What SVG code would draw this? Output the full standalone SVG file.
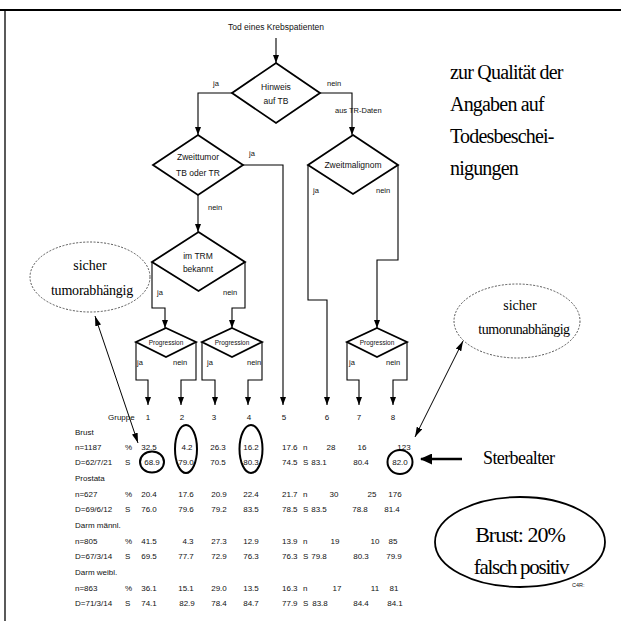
<svg xmlns="http://www.w3.org/2000/svg" width="621" height="621" viewBox="0 0 621 621">
<defs>
<marker id="ah" viewBox="0 0 8 6" refX="8" refY="3" markerWidth="8" markerHeight="6" orient="auto" markerUnits="userSpaceOnUse"><path d="M0,0 L8,3 L0,6 z" fill="#000"/></marker>
<marker id="ah2" viewBox="0 0 10 6" refX="10" refY="3" markerWidth="10" markerHeight="6" orient="auto-start-reverse" markerUnits="userSpaceOnUse"><path d="M0,0 L10,3 L0,6 z" fill="#000"/></marker>
<marker id="big" viewBox="0 0 12 11" refX="11" refY="5.5" markerWidth="12" markerHeight="11" orient="auto" markerUnits="userSpaceOnUse"><path d="M0,0 L12,5.5 L0,11 z" fill="#000"/></marker>
</defs>
<style>
.s{font-family:"Liberation Sans",Arial,sans-serif;fill:#111}
.d{font-size:8.5px;text-anchor:middle}
.l{font-size:7.5px}
.p{font-size:6.5px;text-anchor:middle}
.t{font-size:8px}
.m{text-anchor:middle}
.r{font-family:"Liberation Serif","Times New Roman",serif;fill:#000}
.dia{fill:#fff;stroke:#000;stroke-width:1.8}
.c{fill:none;stroke:#000;stroke-width:1.1}
.ring{fill:none;stroke:#000;stroke-width:2}
.dash{fill:none;stroke:#444;stroke-width:0.9;stroke-dasharray:2 1.5}
</style>
<rect width="621" height="621" fill="#fff"/>
<g id="frame">
<line x1="0" y1="10" x2="621" y2="10" stroke="#000" stroke-width="2"/>
<line x1="5" y1="10" x2="5" y2="621" stroke="#000" stroke-width="1.3"/>
</g>
<g id="connectors">
<path class="c" d="M276,38 V63" marker-end="url(#ah)"/>
<path class="c" d="M232,93 H198 V135" marker-end="url(#ah)"/>
<path class="c" d="M320,93 H352 V135" marker-end="url(#ah)"/>
<path class="c" d="M243,165 H283 V405" marker-end="url(#ah)"/>
<path class="c" d="M198,195 V232" marker-end="url(#ah)"/>
<path class="c" d="M152,262 V308 H165 V328" marker-end="url(#ah)"/>
<path class="c" d="M245,262 V308 H232 V328" marker-end="url(#ah)"/>
<path class="c" d="M136,342 V380 H148 V405" marker-end="url(#ah)"/>
<path class="c" d="M196,342 V380 H181 V405" marker-end="url(#ah)"/>
<path class="c" d="M202,342 V380 H215 V405" marker-end="url(#ah)"/>
<path class="c" d="M262,342 V380 H248 V405" marker-end="url(#ah)"/>
<path class="c" d="M308,165 V300 H327 V405" marker-end="url(#ah)"/>
<path class="c" d="M398,165 V260 H377 V328" marker-end="url(#ah)"/>
<path class="c" d="M347,342 V380 H359 V405" marker-end="url(#ah)"/>
<path class="c" d="M407,342 V380 H393 V405" marker-end="url(#ah)"/>
<path d="M95,316 L138,443" stroke="#000" stroke-width="1" fill="none" marker-start="url(#ah2)" marker-end="url(#ah2)"/>
<path d="M463,341 L415,437" stroke="#000" stroke-width="1" fill="none" marker-start="url(#ah2)" marker-end="url(#ah2)"/>
<path d="M462,459 H421" stroke="#000" stroke-width="2.5" fill="none" marker-end="url(#big)"/>
</g>
<g id="n-title"><text class="s m" x="276" y="30" font-size="8.5">Tod eines Krebspatienten</text></g>
<g id="n-hinweis">
<polygon class="dia" points="276,63 320,93 276,123 232,93"/>
<text class="s d" x="276" y="90">Hinweis</text>
<text class="s d" x="276" y="104">auf TB</text>
</g>
<g id="n-zweittumor">
<polygon class="dia" points="198,135 243,165 198,195 153,165"/>
<text class="s d" x="198" y="160">Zweittumor</text>
<text class="s d" x="198" y="176">TB oder TR</text>
</g>
<g id="n-zweitmalignom">
<polygon class="dia" points="353,135 398,165 353,194 308,165"/>
<text class="s d" x="353" y="168">Zweitmalignom</text>
</g>
<g id="n-trm">
<polygon class="dia" points="198.5,232 245,262 198.5,291 152,262"/>
<text class="s d" x="198" y="259">im TRM</text>
<text class="s d" x="198" y="272">bekannt</text>
</g>
<g id="n-progA">
<polygon class="dia" points="166,328 196,342 166,357 136,342"/>
<text class="s p" x="166" y="344.5">Progression</text>
</g>
<g id="n-progB">
<polygon class="dia" points="232,328 262,342 232,357 202,342"/>
<text class="s p" x="232" y="344.5">Progression</text>
</g>
<g id="n-progC">
<polygon class="dia" points="377,328 407,342 377,357 347,342"/>
<text class="s p" x="377" y="344.5">Progression</text>
</g>
<g id="edge-labels" class="s l">
<text x="213" y="86">ja</text>
<text x="327" y="86">nein</text>
<text x="335" y="113">aus TR-Daten</text>
<text x="249" y="156">ja</text>
<text x="208" y="210">nein</text>
<text x="313" y="193">ja</text>
<text x="376" y="193">nein</text>
<text x="157" y="295">ja</text>
<text x="223" y="295">nein</text>
<text x="137" y="365">ja</text>
<text x="173" y="365">nein</text>
<text x="207" y="365">ja</text>
<text x="247" y="365">nein</text>
<text x="349" y="365">ja</text>
<text x="386" y="365">nein</text>
</g>
<g id="table" class="s t">
<text x="108" y="420">Gruppe</text>
<g class="m">
<text x="148" y="420">1</text><text x="182" y="420">2</text><text x="214" y="420">3</text><text x="249" y="420">4</text>
<text x="284" y="420">5</text><text x="327" y="420">6</text><text x="359" y="420">7</text><text x="393" y="420">8</text>
</g>
<text x="75" y="435">Brust</text>
<text x="75" y="450">n=1187</text><text x="125" y="450">%</text>
<text x="75" y="465">D=62/7/21</text><text x="125" y="465">S</text>
<text x="75" y="481">Prostata</text>
<text x="75" y="497">n=627</text><text x="125" y="497">%</text>
<text x="75" y="512">D=69/6/12</text><text x="125" y="512">S</text>
<text x="75" y="528">Darm männl.</text>
<text x="75" y="544">n=805</text><text x="125" y="544">%</text>
<text x="75" y="559">D=67/3/14</text><text x="125" y="559">S</text>
<text x="75" y="575">Darm weibl.</text>
<text x="75" y="591">n=863</text><text x="125" y="591">%</text>
<text x="75" y="606">D=71/3/14</text><text x="125" y="606">S</text>
<g class="m">
<text x="149" y="450">32.5</text><text x="187" y="450">4.2</text><text x="218" y="450">26.3</text><text x="251" y="450">16.2</text>
<text x="331" y="450">28</text><text x="362" y="450">16</text><text x="404" y="450">123</text>
<text x="152" y="465">68.9</text><text x="186" y="465">79.0</text><text x="218" y="465">70.5</text><text x="251" y="465">80.3</text>
<text x="319" y="465">83.1</text><text x="361" y="465">80.4</text><text x="400" y="465">82.0</text>
<text x="149" y="497">20.4</text><text x="186" y="497">17.6</text><text x="219" y="497">20.9</text><text x="251" y="497">22.4</text>
<text x="334" y="497">30</text><text x="372" y="497">25</text><text x="395" y="497">176</text>
<text x="149" y="512">76.0</text><text x="186" y="512">79.6</text><text x="219" y="512">79.2</text><text x="251" y="512">83.5</text>
<text x="319" y="512">83.5</text><text x="360" y="512">78.8</text><text x="392" y="512">81.4</text>
<text x="149" y="544">41.5</text><text x="188" y="544">4.3</text><text x="219" y="544">27.3</text><text x="251" y="544">12.9</text>
<text x="335" y="544">19</text><text x="375" y="544">10</text><text x="393" y="544">85</text>
<text x="149" y="559">69.5</text><text x="186" y="559">77.7</text><text x="219" y="559">72.9</text><text x="251" y="559">76.3</text>
<text x="319" y="559">79.8</text><text x="361" y="559">80.3</text><text x="394" y="559">79.9</text>
<text x="149" y="591">36.1</text><text x="186" y="591">15.1</text><text x="219" y="591">29.0</text><text x="251" y="591">13.5</text>
<text x="337" y="591">17</text><text x="375" y="591">11</text><text x="394" y="591">81</text>
<text x="149" y="606">74.1</text><text x="187" y="606">82.9</text><text x="219" y="606">78.4</text><text x="251" y="606">84.7</text>
<text x="320" y="606">83.8</text><text x="361" y="606">84.4</text><text x="395" y="606">84.1</text>
</g>
<text x="282" y="450">17.6</text><text x="303" y="450">n</text>
<text x="282" y="465">74.5</text><text x="303" y="465">S</text>
<text x="282" y="497">21.7</text><text x="303" y="497">n</text>
<text x="282" y="512">78.5</text><text x="303" y="512">S</text>
<text x="282" y="544">13.9</text><text x="303" y="544">n</text>
<text x="282" y="559">76.3</text><text x="303" y="559">S</text>
<text x="282" y="591">16.3</text><text x="303" y="591">n</text>
<text x="282" y="606">77.9</text><text x="303" y="606">S</text>
</g>
<g id="rings">
<ellipse class="ring" cx="152" cy="462" rx="12" ry="10.5"/>
<ellipse class="ring" cx="186" cy="449" rx="11" ry="24"/>
<ellipse class="ring" cx="251" cy="449" rx="11.5" ry="24"/>
<ellipse class="ring" cx="400" cy="462" rx="12.5" ry="12"/>
</g>
<g id="n-quality" class="r" font-size="20" letter-spacing="-0.8">
<text x="450" y="79">zur Qualität der</text>
<text x="450" y="111">Angaben auf</text>
<text x="450" y="143">Todesbeschei-</text>
<text x="450" y="175">nigungen</text>
</g>
<g id="n-left-ellipse">
<ellipse class="dash" cx="90" cy="277" rx="60" ry="35"/>
<text class="r m" x="90" y="270" font-size="14">sicher</text>
<text class="r m" x="92" y="295" font-size="14" letter-spacing="-0.2">tumorabhängig</text>
</g>
<g id="n-right-ellipse">
<ellipse class="dash" cx="517" cy="321" rx="63" ry="37"/>
<text class="r m" x="520" y="310" font-size="14">sicher</text>
<text class="r m" x="524" y="334" font-size="14" letter-spacing="-0.5">tumorunabhängig</text>
</g>
<g id="n-sterbealter">
<text class="r" x="483" y="464" font-size="18" letter-spacing="-0.6">Sterbealter</text>
</g>
<g id="n-falsch">
<ellipse cx="520" cy="542" rx="85" ry="45" fill="none" stroke="#000" stroke-width="1.8"/>
<text class="r m" x="520" y="542" font-size="22" letter-spacing="-1">Brust: 20%</text>
<text class="r m" x="521" y="574" font-size="21" letter-spacing="-1.3">falsch positiv</text>
<text class="s" x="572" y="587" font-size="5.5">C4R:</text>
</g>
</svg>
